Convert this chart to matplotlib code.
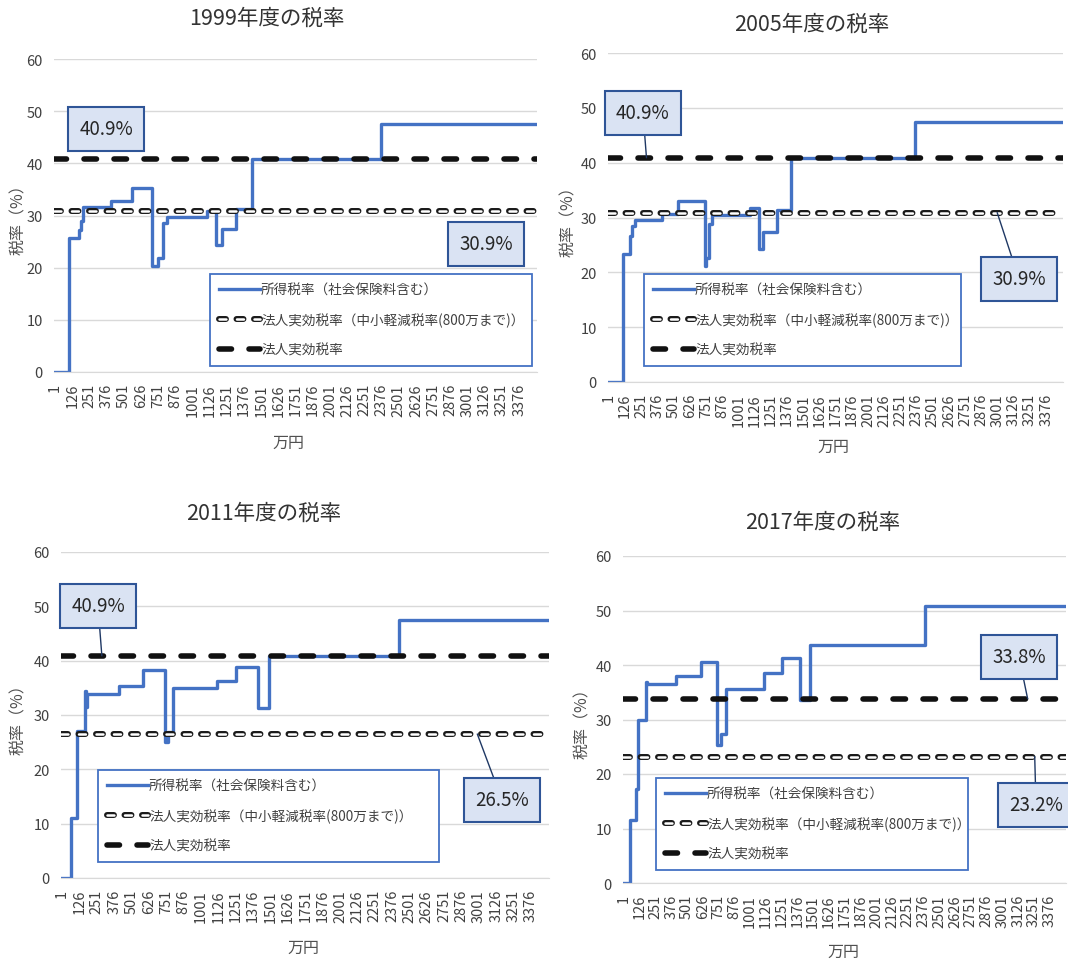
import numpy as np
import matplotlib.pyplot as plt
import matplotlib.patheffects as pe
from matplotlib.lines import Line2D

plt.rcParams['font.family'] = ['Noto Sans CJK JP', 'DejaVu Sans']
plt.rcParams['lines.scale_dashes'] = False

# データ (万円, %)
years = ['1999', '2005', '2011', '2017']

inc99 = [1, 104, 177, 187, 201, 405, 561, 706, 752, 784, 813, 1105, 1173, 1214, 1318, 1435, 2372, 3510]
rate99 = [0, 25.7, 27.2, 29.0, 31.6, 32.7, 35.2, 20.3, 21.8, 28.5, 29.8, 30.9, 24.4, 27.4, 31.3, 40.9, 47.6, 47.6]

inc05 = [1, 105, 162, 177, 200, 406, 534, 740, 748, 773, 799, 1086, 1158, 1189, 1297, 1407, 2363, 3510]
rate05 = [0, 23.3, 26.6, 28.5, 29.5, 30.7, 33.0, 21.1, 22.7, 28.8, 30.4, 31.8, 24.3, 27.3, 31.3, 40.9, 47.5, 47.5]

inc11 = [1, 65, 108, 167, 175, 181, 414, 581, 742, 766, 797, 1117, 1256, 1412, 1488, 2429, 3510]
rate11 = [0, 11.1, 27.1, 34.5, 31.5, 33.9, 35.3, 38.2, 25.0, 26.8, 34.9, 36.2, 38.8, 31.3, 40.9, 47.5, 47.5]

inc17 = [1, 48, 98, 109, 177, 185, 415, 608, 740, 767, 807, 1112, 1252, 1395, 1475, 2388, 3510]
rate17 = [0, 11.6, 17.3, 29.9, 36.9, 36.5, 37.9, 40.6, 25.4, 27.4, 35.6, 38.6, 41.2, 33.5, 43.7, 50.9, 50.9]

incomes = [inc99, inc05, inc11, inc17]
rates = [rate99, rate05, rate11, rate17]

corp_full = [40.9, 40.9, 40.9, 33.8]   # 法人実効税率
corp_sme = [30.9, 30.9, 26.5, 23.2]    # 中小軽減税率
xticks = list(range(1, 3377, 125))

lab_income = '所得税率（社会保険料含む）'
lab_sme = '法人実効税率（中小軽減税率(800万まで)）'
lab_full = '法人実効税率'

BLUE = '#4472C4'
W, H = 1068, 962
fig = plt.figure(figsize=(W / 100, H / 100), dpi=100)


def fx(x):
    return x / W


def fy(y):
    return 1 - y / H


# 各パネルの配置 (ピクセル)
panels = [
    dict(box=(54, 60, 537, 373), title=(267, 19), ylab=(19, 216), xlab=(288, 443),
         leg=(210, 275, 532), full=((106, 130), None), sme=((486, 245), None)),
    dict(box=(608, 54, 1063, 383), title=(812, 25), ylab=(569, 218), xlab=(833, 447),
         leg=(644, 275, 961), full=((643, 114), 290), sme=((1019, 280), 2997)),
    dict(box=(61, 553, 549, 879), title=(264, 514), ylab=(19, 716), xlab=(303, 948),
         leg=(98, 771, 439), full=((98, 607), 287), sme=((502, 801), 2989)),
    dict(box=(623, 557, 1066, 884), title=(823, 523), ylab=(583, 720), xlab=(843, 952),
         leg=(656, 779, 968), full=((1019, 658), 3201), sme=((1036, 806), 3257)),
]

outline_fx = [pe.Stroke(linewidth=4.3, foreground='#1a1a1a'), pe.Normal()]
SME_DASH = (5.0, 7.6)
FULL_DASH = (9.0, 12.6)

for i, p in enumerate(panels):
    x0, y0, x1, y1 = p['box']
    ax = fig.add_axes([fx(x0), fy(y1), fx(x1) - fx(x0), fy(y0) - fy(y1)])

    ax.step(incomes[i], rates[i], where='post', color=BLUE, lw=2.4, zorder=2)
    ax.axhline(corp_sme[i], color='white', lw=1.8, dashes=SME_DASH,
               dash_capstyle='round', path_effects=outline_fx, zorder=3)
    ax.axhline(corp_full[i], color='#111111', lw=4.0, dashes=FULL_DASH,
               dash_capstyle='round', zorder=4)

    ax.set_xlim(-7, 3505)
    ax.set_ylim(0, 60)
    ax.set_yticks(range(0, 61, 10))
    ax.set_xticks(xticks)
    ax.set_xticklabels([str(t) for t in xticks], rotation=90)
    ax.tick_params(length=0, labelsize=10.5, colors='#404040', pad=8)
    ax.grid(axis='y', color='#D9D9D9', lw=1)
    ax.set_axisbelow(True)
    for s in ['top', 'right', 'left']:
        ax.spines[s].set_visible(False)
    ax.spines['bottom'].set_color('#D9D9D9')

    fig.text(fx(p['title'][0]), fy(p['title'][1]), years[i] + '年度の税率',
             ha='center', va='center', fontsize=15.5, color='#333333')
    fig.text(fx(p['ylab'][0]), fy(p['ylab'][1]), '税率（%）', rotation=90,
             ha='center', va='center', fontsize=11.5, color='#505050')
    fig.text(fx(p['xlab'][0]), fy(p['xlab'][1]), '万円',
             ha='center', va='center', fontsize=11.5, color='#505050')

    # 凡例
    handles = [
        Line2D([], [], color=BLUE, lw=2.4),
        Line2D([], [], color='white', lw=1.8, dashes=SME_DASH,
               dash_capstyle='round', path_effects=outline_fx),
        Line2D([], [], color='#111111', lw=4.0, dashes=FULL_DASH, dash_capstyle='round'),
    ]
    lx0, ly0, lx1 = p['leg']
    leg = ax.legend(handles, [lab_income, lab_sme, lab_full],
                    bbox_to_anchor=(fx(lx0), fy(ly0) - 0.2, fx(lx1) - fx(lx0), 0.2),
                    bbox_transform=fig.transFigure, loc='upper left', mode='expand',
                    fontsize=9.8, handlelength=3.0, handletextpad=0.1,
                    labelspacing=1.15, borderpad=0.65, borderaxespad=0,
                    fancybox=False, framealpha=1, edgecolor=BLUE)
    leg.get_frame().set_linewidth(1.3)
    for t in leg.get_texts():
        t.set_color('#404040')

    # ラベルボックス
    box_style = dict(boxstyle='square,pad=0.6', fc='#DAE3F3', ec='#2F5597', lw=1.5)
    for key, val in [('full', corp_full[i]), ('sme', corp_sme[i])]:
        (bx, by), lead_x = p[key]
        txt = f'{val:.1f}%'
        if lead_x is None:
            fig.text(fx(bx), fy(by), txt, ha='center', va='center', fontsize=13.5,
                     color='#262626', bbox=box_style, zorder=6)
        else:
            ax.annotate(txt, xy=(lead_x, val), xycoords='data',
                        xytext=(bx, H - by), textcoords='figure pixels',
                        ha='center', va='center', fontsize=13.5, color='#262626',
                        bbox=box_style, zorder=6, annotation_clip=False,
                        arrowprops=dict(arrowstyle='-', color='#1F3864', lw=1,
                                        shrinkA=0, shrinkB=0))

fig.savefig('out.png', dpi=100)
